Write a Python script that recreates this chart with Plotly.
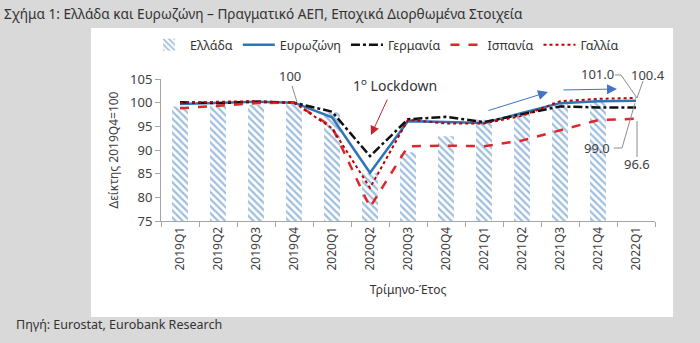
import plotly.graph_objects as go

quarters = ["2019Q1", "2019Q2", "2019Q3", "2019Q4", "2020Q1", "2020Q2", "2020Q3",
            "2020Q4", "2021Q1", "2021Q2", "2021Q3", "2021Q4", "2022Q1"]
greece = [99.2, 99.3, 99.5, 100.0, 98.0, 85.1, 89.5, 92.9, 96.4, 97.7, 100.2, 100.3, None]
eurozone = [99.7, 99.9, 100.2, 100.0, 96.9, 85.2, 96.1, 95.9, 95.7, 97.8, 99.9, 100.3, 100.4]
germany = [100.1, 99.9, 100.2, 100.0, 98.1, 88.7, 96.5, 97.0, 95.9, 97.5, 99.2, 99.0, 99.0]
spain = [98.8, 99.3, 99.9, 100.0, 94.9, 77.9, 90.8, 90.9, 90.8, 92.0, 94.2, 96.3, 96.6]
france = [99.9, 100.2, 100.3, 100.0, 94.6, 82.0, 96.4, 95.6, 95.6, 97.2, 100.3, 100.8, 101.0]
y_ticks = [75, 80, 85, 90, 95, 100, 105]

FONT = "Noto Sans"
W, H = 700, 343
L, R, T, B = 161, 655, 79, 221


def px(x):
    return (x - L) / (R - L)


def py(y):
    return (B - y) / (B - T)


fig = go.Figure()
fig.add_trace(go.Bar(
    x=quarters, y=greece, name="Ελλάδα", width=0.42,
    marker=dict(color="white", line=dict(width=0),
                pattern=dict(shape="\\", fgcolor="#3c7dc0", bgcolor="white",
                             size=5, solidity=0.45)),
))
fig.add_trace(go.Scatter(x=quarters, y=eurozone, name="Ευρωζώνη", mode="lines",
                         line=dict(color="#2e75b6", width=2.5)))
fig.add_trace(go.Scatter(x=quarters, y=germany, name="Γερμανία", mode="lines",
                         line=dict(color="#111111", width=2.5, dash="dashdot")))
fig.add_trace(go.Scatter(x=quarters, y=spain, name="Ισπανία", mode="lines",
                         line=dict(color="#e0262a", width=2.5, dash="dash")))
fig.add_trace(go.Scatter(x=quarters, y=france, name="Γαλλία", mode="lines",
                         line=dict(color="#c00000", width=2, dash="dot")))

shapes = [
    dict(type="rect", xref="paper", yref="paper", x0=px(91), x1=px(673),
         y0=py(317), y1=py(28), fillcolor="white", line=dict(width=0), layer="below"),
]
leaders = [
    [(292, 86), (297, 102)],
    [(615, 75), (621, 75), (637, 98)],
    [(643, 81), (637, 98)],
    [(614, 148), (622, 148), (635, 103)],
    [(637, 157), (637, 121)],
]
for pts in leaders:
    for (xa, ya), (xb, yb) in zip(pts[:-1], pts[1:]):
        shapes.append(dict(type="line", xref="paper", yref="paper",
                           x0=px(xa), y0=py(ya), x1=px(xb), y1=py(yb),
                           line=dict(color="#8c8c8c", width=1)))

txt = dict(family=FONT, size=13, color="#404040")


def label(text, x, y, font=txt):
    return dict(text=text, xref="paper", yref="paper", x=px(x), y=py(y),
                xanchor="center", yanchor="middle", showarrow=False, font=font)


def arrow(x_head, y_head, x_tail, y_tail, color, size):
    return dict(text="", xref="paper", yref="paper", x=px(x_head), y=py(y_head),
                ax=x_tail - x_head, ay=y_tail - y_head, axref="pixel", ayref="pixel",
                showarrow=True, arrowhead=2, arrowsize=size, arrowwidth=1,
                arrowcolor=color)


annotations = [
    dict(text="Πηγή: Eurostat, Eurobank Research", xref="paper", yref="paper",
         x=px(14), y=py(324), xanchor="left", yanchor="middle", showarrow=False,
         font=dict(family=FONT, size=12.5, color="#333333")),
    label("100", 290, 76),
    label("101.0", 597, 74),
    label("100.4", 648, 75),
    label("99.0", 597, 148),
    label("96.6", 637, 164),
    label("1<sup>ο</sup> Lockdown", 395, 85, dict(family=FONT, size=14, color="#333333")),
    arrow(371, 135, 388, 98, "#c0262d", 1.8),
    arrow(548, 92, 487, 111, "#4472c4", 2),
    arrow(617, 89, 562, 90, "#4472c4", 2),
]

fig.update_layout(
    width=W, height=H,
    margin=dict(l=L, r=W - R, t=T, b=H - B, pad=0, autoexpand=False),
    paper_bgcolor="#d9d9d9", plot_bgcolor="white",
    font=dict(family=FONT, color="#404040"),
    title=dict(text="Σχήμα 1: Ελλάδα και Ευρωζώνη – Πραγματικό ΑΕΠ, Εποχικά Διορθωμένα Στοιχεία",
               x=4 / W, xanchor="left", y=1 - 14 / H, yanchor="middle",
               font=dict(family=FONT, size=13.6, color="#333333")),
    showlegend=True,
    legend=dict(orientation="h", x=px(386), xanchor="center", y=py(45), yanchor="middle",
                bgcolor="rgba(0,0,0,0)", font=dict(family=FONT, size=12.5, color="#333333"),
                traceorder="normal", itemwidth=32),
    bargap=0.5,
    shapes=shapes,
    annotations=annotations,
)
fig.update_xaxes(
    type="category", range=[-0.5, 12.5], tickangle=-90,
    showline=True, linecolor="#a6a6a6", linewidth=1,
    ticks="outside", tickson="boundaries", ticklen=5, tickcolor="#a6a6a6",
    tickfont=dict(family=FONT, size=12, color="#404040"),
    title=dict(text="Τρίμηνο-Έτος", font=dict(family=FONT, size=12, color="#333333"), standoff=16),
    showgrid=False, zeroline=False,
)
fig.update_yaxes(
    range=[75, 105], tickvals=y_ticks,
    showline=True, linecolor="#a6a6a6", linewidth=1,
    ticks="outside", ticklen=5, tickcolor="#a6a6a6",
    tickfont=dict(family=FONT, size=13, color="#404040"),
    title=dict(text="Δείκτης 2019Q4=100", font=dict(family=FONT, size=12, color="#404040"), standoff=8),
    showgrid=False, zeroline=False,
)

fig.write_html("out.html")
